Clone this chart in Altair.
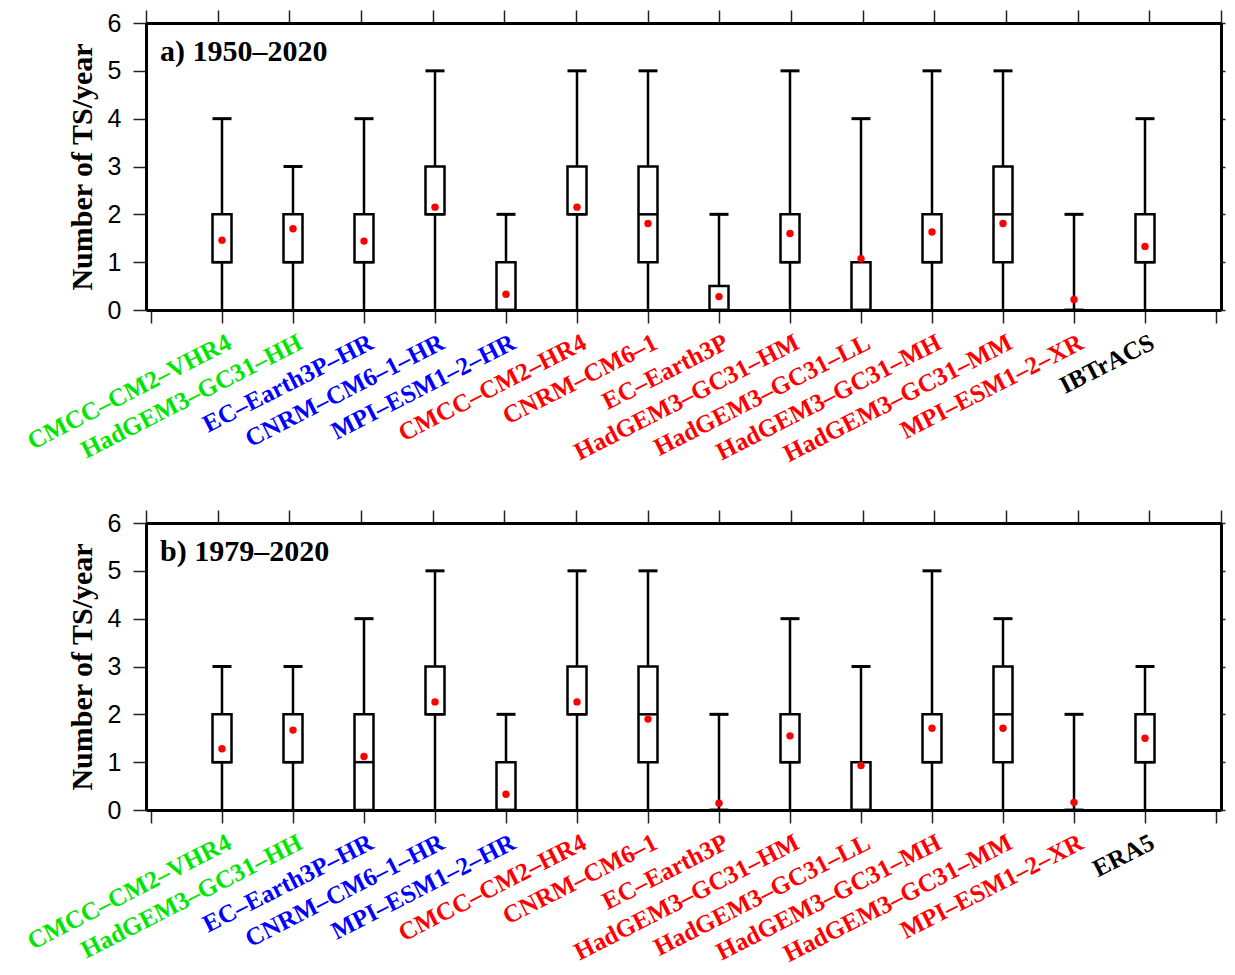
import altair as alt
import pandas as pd

models = ["CMCC–CM2–VHR4", "HadGEM3–GC31–HH", "EC–Earth3P–HR", "CNRM–CM6–1–HR", "MPI–ESM1–2–HR",
          "CMCC–CM2–HR4", "CNRM–CM6–1", "EC–Earth3P", "HadGEM3–GC31–HM", "HadGEM3–GC31–LL",
          "HadGEM3–GC31–MH", "HadGEM3–GC31–MM", "MPI–ESM1–2–XR"]
model_colors = ["#00e600"] * 2 + ["#0000ff"] * 3 + ["#ff0000"] * 8

labels_a = models + ["IBTrACS"]
labels_b = models + ["ERA5"]
label_colors = model_colors + ["#000000"]
positions = list(range(1, 15))

# Panel a) 1950-2020
a_min = [0, 0, 0, 0, 0, 0, 0, 0, 0, 0, 0, 0, 0, 0]
a_q1 = [1, 1, 1, 2, 0, 2, 1, 0, 1, 0, 1, 1, 0, 1]
a_med = [1, 1, 1, 2, 0, 2, 2, 0, 1, 0, 1, 2, 0, 1]
a_q3 = [2, 2, 2, 3, 1, 3, 3, 0.5, 2, 1, 2, 3, 0, 2]
a_max = [4, 3, 4, 5, 2, 5, 5, 2, 5, 4, 5, 5, 2, 4]
a_mean = [1.46, 1.70, 1.44, 2.15, 0.33, 2.15, 1.81, 0.28, 1.60, 1.07, 1.63, 1.81, 0.22, 1.33]

# Panel b) 1979-2020
b_min = [0, 0, 0, 0, 0, 0, 0, 0, 0, 0, 0, 0, 0, 0]
b_q1 = [1, 1, 0, 2, 0, 2, 1, 0, 1, 0, 1, 1, 0, 1]
b_med = [1, 1, 1, 2, 0, 2, 2, 0, 1, 0, 1, 2, 0, 1]
b_q3 = [2, 2, 2, 3, 1, 3, 3, 0, 2, 1, 2, 3, 0, 2]
b_max = [3, 3, 4, 5, 2, 5, 5, 2, 4, 3, 5, 4, 2, 3]
b_mean = [1.28, 1.67, 1.12, 2.26, 0.33, 2.26, 1.90, 0.14, 1.55, 0.93, 1.71, 1.71, 0.16, 1.50]

x_ticks = list(range(0, 16))
y_ticks = list(range(0, 7))

W, H = 1075, 287
SERIF = "Liberation Serif"
SANS = "Liberation Sans"


def panel(labels, mn, q1, med, q3, mx, mean, title):
    df = pd.DataFrame({"pos": positions, "label": labels, "color": label_colors,
                       "mn": mn, "q1": q1, "med": med, "q3": q3, "mx": mx, "mean": mean})
    xs = alt.Scale(domain=[0, 15], nice=False, zero=False)
    ys = alt.Scale(domain=[0, 6], nice=False, zero=False)
    xax = alt.Axis(orient="bottom", values=x_ticks, labels=False, title=None, grid=False,
                   tickSize=13, tickWidth=1.5, tickColor="#222222",
                   domainWidth=3, domainColor="black", zindex=1)
    yax = alt.Axis(orient="left", values=y_ticks, grid=False, title="Number of TS/year",
                   titleFont=SERIF, titleFontWeight="bold", titleFontSize=30, titleColor="black",
                   titlePadding=10, labelFont=SANS, labelFontSize=25, labelColor="black",
                   labelPadding=12, tickSize=13, tickWidth=1.5, tickColor="#222222",
                   domainWidth=3, domainColor="black", zindex=1)
    xax_top = alt.Axis(orient="top", values=x_ticks, labels=False, title=None, grid=False,
                       tickSize=13, tickWidth=1.5, tickColor="#222222",
                       domainWidth=3, domainColor="black", zindex=1)
    yax_right = alt.Axis(orient="right", values=y_ticks, labels=False, title=None, grid=False,
                         tickSize=4, tickWidth=1.5, tickColor="#222222",
                         domainWidth=3, domainColor="black", zindex=1)

    base = alt.Chart(df)
    X = alt.X("pos:Q", scale=xs, axis=xax)

    def Y(f):
        return alt.Y(f, scale=ys, axis=yax)

    whisk = base.mark_rule(color="black", strokeWidth=2.5).encode(x=X, y=Y("mn:Q"), y2="mx:Q")
    box = base.mark_bar(size=19, fill="white", stroke="black", strokeWidth=2.5, opacity=1).encode(
        x=X, y=Y("q1:Q"), y2="q3:Q")
    medl = base.mark_tick(orient="horizontal", size=19, thickness=2.5, color="black", opacity=1).encode(
        x=X, y=Y("med:Q"))
    cap = base.mark_tick(orient="horizontal", size=19, thickness=3, color="black", opacity=1).encode(
        x=X, y=Y("mx:Q"))
    pts = base.mark_circle(size=55, color="#ff0000", opacity=1).encode(x=X, y=Y("mean:Q"))
    txt = base.mark_text(angle=333, align="right", baseline="top", font=SERIF, fontWeight="bold",
                         fontSize=25, xOffset=2).encode(
        x=X, y=alt.value(H + 20), text="label:N", color=alt.Color("color:N", scale=None))
    ttl = alt.Chart(pd.DataFrame({"t": [title]})).mark_text(
        align="left", baseline="alphabetic", font=SERIF, fontWeight="bold", fontSize=30, color="black"
    ).encode(x=alt.value(14), y=alt.value(38), text="t:N")

    main = alt.layer(whisk, box, medl, cap, pts, txt, ttl)
    frame = base.mark_point(opacity=0).encode(
        x=alt.X("pos:Q", scale=xs, axis=xax_top), y=alt.Y("mx:Q", scale=ys, axis=yax_right))
    return alt.layer(main, frame).resolve_scale(x="independent", y="independent").properties(
        width=W, height=H)


pa = panel(labels_a, a_min, a_q1, a_med, a_q3, a_max, a_mean, "a) 1950–2020")
pb = panel(labels_b, b_min, b_q1, b_med, b_q3, b_max, b_mean, "b) 1979–2020")

chart = alt.vconcat(pa, pb, spacing=213, bounds="flush").properties(
    padding={"left": 15, "top": 0, "right": 0, "bottom": 0}
).configure_view(stroke=None).configure(background="white")

chart.save("out.html", embed_options={"renderer": "svg", "actions": False})
